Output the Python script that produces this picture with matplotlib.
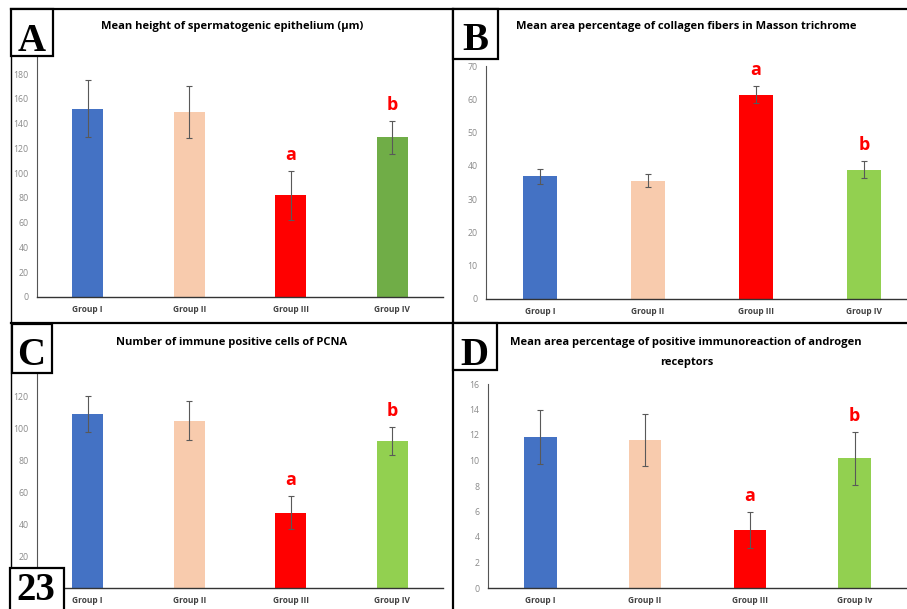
import matplotlib
matplotlib.use("Agg")
import matplotlib.pyplot as plt
from matplotlib.patches import Rectangle
from matplotlib.lines import Line2D

W, H = 907, 609

groups = ["Group I", "Group II", "Group III", "Group IV"]
groups_d = ["Group I", "Group II", "Group III", "Group Iv"]
sig_letters = ["", "", "a", "b"]

# A: mean height of spermatogenic epithelium (um)
height_mean = [152, 149.5, 82, 129]
height_err = [23, 21, 20, 13.5]

# B: collagen fibers area %
collagen_mean = [36.9, 35.6, 61.4, 38.9]
collagen_err = [2.3, 2.1, 2.6, 2.5]

# C: PCNA positive cells
pcna_mean = [108.8, 104.6, 47.1, 91.8]
pcna_err = [11.2, 12.0, 10.2, 8.8]

# D: androgen receptor area %
androgen_mean = [11.86, 11.6, 4.57, 10.16]
androgen_err = [2.1, 2.07, 1.43, 2.1]

colors_a = ["#4472C4", "#F8CBAD", "#FF0000", "#70AD47"]
colors_bcd = ["#4472C4", "#F8CBAD", "#FF0000", "#92D050"]

SANS = ["Liberation Sans Narrow", "Open Sans", "DejaVu Sans"]
SERIF = ["Liberation Serif", "DejaVu Serif"]

fig = plt.figure(figsize=(W / 100, H / 100), dpi=100)
fig.patch.set_facecolor("white")


def fx(x):
    return x / W


def fy(y):
    return 1 - y / H


def panel(left, right, top, bottom, ymax, yticks, means, errs, colors, labels):
    ax = fig.add_axes([fx(left), fy(bottom), (right - left) / W, (bottom - top) / H])
    ax.patch.set_alpha(0)
    x = list(range(len(means)))
    ax.bar(x, means, width=0.31, color=colors, zorder=2)
    ax.errorbar(x, means, yerr=errs, fmt="none", ecolor="#595959",
                elinewidth=0.8, capsize=2.5, capthick=0.8, zorder=3)
    for xi, m, e, s in zip(x, means, errs, sig_letters):
        if s:
            ax.annotate(s, (xi, m + e), xytext=(0, 11.5), textcoords="offset points",
                        ha="center", va="center", color="#FF0000", fontsize=13,
                        fontweight="bold", family=SANS)
    ax.set_xlim(-0.5, len(means) - 0.5)
    ax.set_ylim(0, ymax)
    ax.set_yticks(yticks)
    ax.set_xticks(x)
    ax.set_xticklabels(labels)
    for sp in ["top", "right"]:
        ax.spines[sp].set_visible(False)
    ax.spines["left"].set_color("#555555")
    ax.spines["bottom"].set_color("#333333")
    ax.spines["left"].set_linewidth(0.8)
    ax.spines["bottom"].set_linewidth(1.0)
    ax.tick_params(axis="y", length=0, pad=6, labelsize=6.3, labelcolor="#8a8a8a")
    ax.tick_params(axis="x", length=0, pad=6, labelsize=6.0, labelcolor="#404040")
    for t in ax.get_yticklabels():
        t.set_family(SANS)
    for t in ax.get_xticklabels():
        t.set_family(SANS)
        t.set_fontweight("bold")
    return ax


panel(37, 443, 56, 297, 194.6, range(0, 181, 20), height_mean, height_err, colors_a, groups)
panel(486, 918, 66, 299, 70, range(0, 71, 10), collagen_mean, collagen_err, colors_bcd, groups)
# the 0 label of C sits under the "23" page box
panel(37, 443, 373, 588, 134.4, range(20, 121, 20), pcna_mean, pcna_err, colors_bcd, groups)
panel(488, 907, 384, 588, 16, range(0, 17, 2), androgen_mean, androgen_err, colors_bcd, groups_d)

# titles
title_kw = dict(ha="center", va="center", fontsize=8.0, fontweight="bold",
                color="black", family=SANS, zorder=6)
fig.text(fx(232), fy(27), "Mean height of spermatogenic epithelium (\u00b5m)", **title_kw)
fig.text(fx(686), fy(27), "Mean area percentage of collagen fibers in Masson trichrome", **title_kw)
fig.text(fx(232), fy(343), "Number of immune positive cells of PCNA", **title_kw)
fig.text(fx(686), fy(343), "Mean area percentage of positive immunoreaction of androgen", **title_kw)
fig.text(fx(687), fy(362), "receptors", **title_kw)


def hline(y, x0, x1, lw):
    fig.add_artist(Line2D([fx(x0), fx(x1)], [fy(y), fy(y)], color="black", lw=lw, zorder=4))


def vline(x, y0, y1, lw):
    fig.add_artist(Line2D([fx(x), fx(x)], [fy(y0), fy(y1)], color="black", lw=lw, zorder=4))


hline(9, 11, 907, 1.6)
hline(323, 11, 907, 1.6)
vline(11, 9, 609, 1.0)
vline(453, 9, 609, 1.6)


def label_box(x0, y0, x1, y1, text, tx, ty, size, va="baseline"):
    fig.add_artist(Rectangle((fx(x0), fy(y1)), (x1 - x0) / W, (y1 - y0) / H,
                             transform=fig.transFigure, facecolor="white",
                             edgecolor="black", lw=1.6, zorder=5))
    fig.text(fx(tx), fy(ty), text, ha="center", va=va, fontsize=size,
             fontweight="bold", family=SERIF, zorder=6)


label_box(11, 9, 53, 56, "A", 32, 51, 28)
label_box(453, 9, 498, 59, "B", 475, 50, 28)
label_box(12, 324, 52, 373, "C", 31, 365, 28)
label_box(453, 323, 497, 370, "D", 474, 365, 28)
label_box(10, 568, 64, 640, "23", 36, 608.5, 28, va="bottom")

fig.savefig("out.png", dpi=100)
